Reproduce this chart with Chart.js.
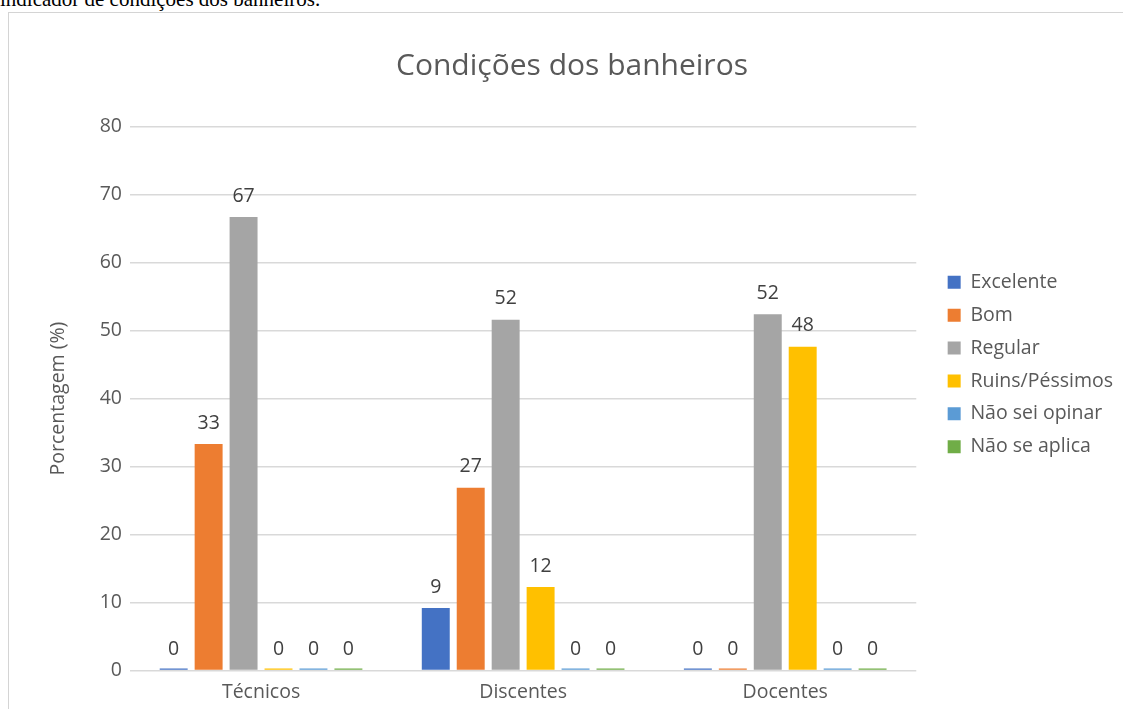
<!DOCTYPE html>
<html>
<head>
<meta charset="utf-8">
<script src="https://cdn.jsdelivr.net/npm/chart.js@4"></script>
<style>
  html, body { margin: 0; padding: 0; background: #fff; overflow: hidden; width: 1123px; height: 709px; }
  #topText { position: absolute; left: 0px; top: -11px; font-family: "Liberation Serif", "Times New Roman", serif; font-size: 21px; line-height: 21px; color: #000; white-space: nowrap; }
  #frame { position: absolute; left: 8px; top: 12px; width: 1140px; height: 720px; border-left: 1px solid #d4d4d4; border-top: 1px solid #d4d4d4; }
  #wrap { position: absolute; left: 9px; top: 13px; width: 1127px; height: 710px; }
</style>
</head>
<body>
<div id="topText">indicador de condições dos banheiros.</div>
<div id="frame"></div>
<div id="wrap"><canvas id="c"></canvas></div>
<script>
const categories = ["Técnicos", "Discentes", "Docentes"];
const seriesNames = ["Excelente", "Bom", "Regular", "Ruins/Péssimos", "Não sei opinar", "Não se aplica"];
const excelente = [0, 9.2, 0];
const bom = [33.3, 26.9, 0];
const regular = [66.7, 51.6, 52.4];
const ruins = [0, 12.3, 47.6];
const naoSei = [0, 0, 0];
const naoSeAplica = [0, 0, 0];
const yTicks = [0, 10, 20, 30, 40, 50, 60, 70, 80];
const colors = ["#4472C4", "#ED7D31", "#A5A5A5", "#FFC000", "#5B9BD5", "#70AD47"];

const FONT = "'Open Sans', 'Noto Sans', sans-serif";
const FS = 19.5;
const allSeries = [excelente, bom, regular, ruins, naoSei, naoSeAplica];

const labelPlugin = {
  id: 'barLabels',
  afterDatasetsDraw(chart) {
    const ctx = chart.ctx;
    ctx.save();
    ctx.font = FS + "px " + FONT;
    ctx.fillStyle = "#404040";
    ctx.textAlign = "center";
    ctx.textBaseline = "middle";
    chart.data.datasets.forEach((ds, i) => {
      const meta = chart.getDatasetMeta(i);
      meta.data.forEach((bar, j) => {
        const v = ds.data[j];
        const yTop = chart.scales.y.getPixelForValue(v);
        ctx.fillText(String(Math.round(v)), bar.x, yTop - 21);
      });
    });
    ctx.restore();
  }
};

const legendShift = {
  id: 'legendShift',
  afterLayout(chart) {
    const lg = chart.legend;
    if (!lg) return;
    const dy = 1, dx = 18;
    lg.top += dy; lg.bottom += dy; lg.left += dx; lg.right += dx;
  }
};

new Chart(document.getElementById('c'), {
  type: 'bar',
  data: {
    labels: categories,
    datasets: seriesNames.map((n, i) => ({
      label: n,
      data: allSeries[i],
      backgroundColor: colors[i],
      borderWidth: 0,
      minBarLength: 2,
      categoryPercentage: 0.8,
      barPercentage: 0.8
    }))
  },
  options: {
    responsive: true,
    maintainAspectRatio: false,
    animation: false,
    layout: { padding: { left: 30, right: 31, top: 0, bottom: 9 } },
    plugins: {
      title: {
        display: true,
        text: "Condições dos banheiros",
        color: "#595959",
        font: { family: FONT, size: 30, weight: 'normal' },
        padding: { top: 35.5, bottom: 42 }
      },
      legend: {
        position: 'right',
        align: 'center',
        labels: {
          boxWidth: 13, boxHeight: 13,
          color: "#595959",
          font: { family: FONT, size: FS },
          padding: 13.4
        }
      },
      tooltip: { enabled: false }
    },
    scales: {
      x: {
        grid: { display: false, drawTicks: false },
        border: { display: false },
        ticks: { color: "#595959", font: { family: FONT, size: FS }, padding: 10 }
      },
      y: {
        min: 0, max: 80,
        afterBuildTicks(scale) { scale.ticks = yTicks.map(v => ({ value: v })); },
        afterFit(scale) { scale.width = 91; },
        grid: { color: "#d9d9d9", lineWidth: 1.5, drawTicks: false },
        border: { display: false },
        ticks: { color: "#595959", font: { family: FONT, size: FS }, padding: 8 },
        title: {
          display: true,
          text: "Porcentagem (%)",
          color: "#595959",
          font: { family: FONT, size: FS },
          padding: { top: 8, bottom: 0 }
        }
      }
    }
  },
  plugins: [labelPlugin, legendShift]
});
</script>
</body>
</html>
